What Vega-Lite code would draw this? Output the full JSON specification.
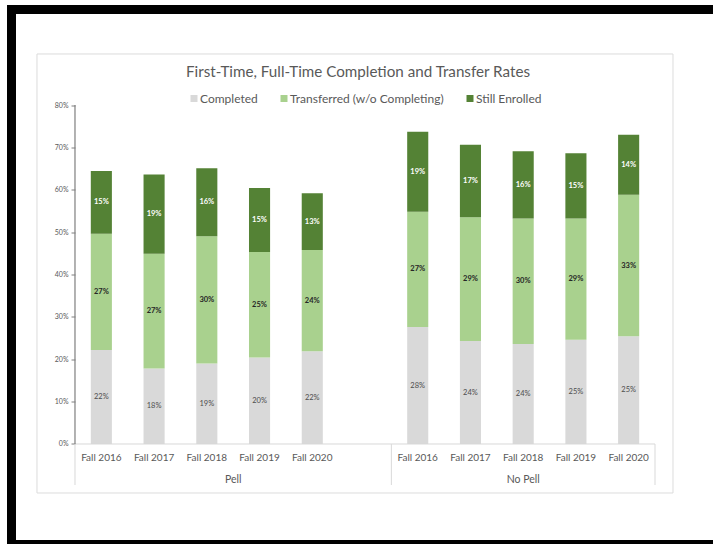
{
  "$schema": "https://vega.github.io/schema/vega-lite/v6.json",
  "width": 707,
  "height": 535,
  "autosize": {"type": "none"},
  "padding": {"left": 11.5, "top": 9.5, "right": -5.5, "bottom": -0.5},
  "background": "white",
  "config": {
    "view": {"stroke": "#000000", "strokeWidth": 9, "fill": "white"},
    "font": "Lato",
    "axis": {"labelFont": "Lato", "labelColor": "#595959", "grid": false, "title": null},
    "legend": {"labelFont": "Lato"}
  },
  "title": {
    "text": "First-Time, Full-Time Completion and Transfer Rates",
    "fontSize": 15.2,
    "fontWeight": "normal",
    "color": "#595959",
    "font": "Lato",
    "anchor": "middle",
    "frame": "group",
    "offset": -71,
    "dx": -7
  },
  "datasets": {
    "rates": [
      {"group": "Pell", "term": "Fall 2016", "bar": "Pell Fall 2016", "status": "Completed", "value": 0.222},
      {"group": "Pell", "term": "Fall 2016", "bar": "Pell Fall 2016", "status": "Transferred (w/o Completing)", "value": 0.274},
      {"group": "Pell", "term": "Fall 2016", "bar": "Pell Fall 2016", "status": "Still Enrolled", "value": 0.148},
      {"group": "Pell", "term": "Fall 2017", "bar": "Pell Fall 2017", "status": "Completed", "value": 0.178},
      {"group": "Pell", "term": "Fall 2017", "bar": "Pell Fall 2017", "status": "Transferred (w/o Completing)", "value": 0.271},
      {"group": "Pell", "term": "Fall 2017", "bar": "Pell Fall 2017", "status": "Still Enrolled", "value": 0.187},
      {"group": "Pell", "term": "Fall 2018", "bar": "Pell Fall 2018", "status": "Completed", "value": 0.19},
      {"group": "Pell", "term": "Fall 2018", "bar": "Pell Fall 2018", "status": "Transferred (w/o Completing)", "value": 0.30},
      {"group": "Pell", "term": "Fall 2018", "bar": "Pell Fall 2018", "status": "Still Enrolled", "value": 0.161},
      {"group": "Pell", "term": "Fall 2019", "bar": "Pell Fall 2019", "status": "Completed", "value": 0.204},
      {"group": "Pell", "term": "Fall 2019", "bar": "Pell Fall 2019", "status": "Transferred (w/o Completing)", "value": 0.249},
      {"group": "Pell", "term": "Fall 2019", "bar": "Pell Fall 2019", "status": "Still Enrolled", "value": 0.151},
      {"group": "Pell", "term": "Fall 2020", "bar": "Pell Fall 2020", "status": "Completed", "value": 0.219},
      {"group": "Pell", "term": "Fall 2020", "bar": "Pell Fall 2020", "status": "Transferred (w/o Completing)", "value": 0.239},
      {"group": "Pell", "term": "Fall 2020", "bar": "Pell Fall 2020", "status": "Still Enrolled", "value": 0.134},
      {"group": "No Pell", "term": "Fall 2016", "bar": "No Pell Fall 2016", "status": "Completed", "value": 0.276},
      {"group": "No Pell", "term": "Fall 2016", "bar": "No Pell Fall 2016", "status": "Transferred (w/o Completing)", "value": 0.272},
      {"group": "No Pell", "term": "Fall 2016", "bar": "No Pell Fall 2016", "status": "Still Enrolled", "value": 0.189},
      {"group": "No Pell", "term": "Fall 2017", "bar": "No Pell Fall 2017", "status": "Completed", "value": 0.243},
      {"group": "No Pell", "term": "Fall 2017", "bar": "No Pell Fall 2017", "status": "Transferred (w/o Completing)", "value": 0.292},
      {"group": "No Pell", "term": "Fall 2017", "bar": "No Pell Fall 2017", "status": "Still Enrolled", "value": 0.171},
      {"group": "No Pell", "term": "Fall 2018", "bar": "No Pell Fall 2018", "status": "Completed", "value": 0.236},
      {"group": "No Pell", "term": "Fall 2018", "bar": "No Pell Fall 2018", "status": "Transferred (w/o Completing)", "value": 0.296},
      {"group": "No Pell", "term": "Fall 2018", "bar": "No Pell Fall 2018", "status": "Still Enrolled", "value": 0.159},
      {"group": "No Pell", "term": "Fall 2019", "bar": "No Pell Fall 2019", "status": "Completed", "value": 0.246},
      {"group": "No Pell", "term": "Fall 2019", "bar": "No Pell Fall 2019", "status": "Transferred (w/o Completing)", "value": 0.286},
      {"group": "No Pell", "term": "Fall 2019", "bar": "No Pell Fall 2019", "status": "Still Enrolled", "value": 0.154},
      {"group": "No Pell", "term": "Fall 2020", "bar": "No Pell Fall 2020", "status": "Completed", "value": 0.254},
      {"group": "No Pell", "term": "Fall 2020", "bar": "No Pell Fall 2020", "status": "Transferred (w/o Completing)", "value": 0.334},
      {"group": "No Pell", "term": "Fall 2020", "bar": "No Pell Fall 2020", "status": "Still Enrolled", "value": 0.142}
    ]
  },
  "layer": [
    {
      "data": {"values": [{}]},
      "mark": {"type": "rect", "filled": false, "stroke": "#dcdcdc", "strokeWidth": 1},
      "encoding": {
        "x": {"datum": "Pell Fall 2016", "type": "nominal", "bandPosition": -0.7207},
        "x2": {"datum": "No Pell Fall 2020", "bandPosition": 1.341},
        "y": {"datum": 0.9204, "type": "quantitative"},
        "y2": {"datum": -0.1156}
      }
    },
    {
      "data": {"name": "rates"},
      "transform": [{"stack": "value", "groupby": ["bar"], "as": ["v0", "v1"]}],
      "mark": {"type": "bar", "width": {"band": 0.4}},
      "encoding": {
        "x": {
          "field": "bar",
          "type": "nominal",
          "title": null,
          "sort": null,
          "scale": {
            "domain": ["  ", "Pell Fall 2016", "Pell Fall 2017", "Pell Fall 2018", "Pell Fall 2019", "Pell Fall 2020", " ", "No Pell Fall 2016", "No Pell Fall 2017", "No Pell Fall 2018", "No Pell Fall 2019", "No Pell Fall 2020", "   "],
            "paddingInner": 0,
            "paddingOuter": 0.204
          },
          "axis": {
            "orient": "bottom",
            "offset": -100.5,
            "domain": false,
            "ticks": false,
            "tickSize": 0,
            "bandPosition": 0.5,
            "labelAlign": "center",
            "labelPadding": 13,
            "labelFontSize": 10,
            "labelAngle": 0,
            "labelColor": "#595959",
            "labelExpr": "replace(replace(datum.label, 'No Pell ', ''), 'Pell ', '')"
          }
        },
        "y": {
          "field": "v0",
          "type": "quantitative",
          "title": null,
          "scale": {"domain": [-0.23717, 1.02537], "nice": false, "zero": false},
          "axis": {
            "values": [0, 0.1, 0.2, 0.3, 0.4, 0.5, 0.6, 0.7, 0.8],
            "format": ".0%",
            "domain": false,
            "offset": -63.5,
            "tickColor": "#7f7f7f",
            "tickSize": 4,
            "labelFontSize": 7,
            "labelPadding": 3,
            "labelColor": "#595959"
          }
        },
        "y2": {"field": "v1"},
        "color": {
          "field": "status",
          "type": "nominal",
          "scale": {
            "domain": ["Completed", "Transferred (w/o Completing)", "Still Enrolled"],
            "range": ["#d9d9d9", "#a9d18e", "#548235"]
          },
          "legend": {
            "orient": "none",
            "legendX": 176.5,
            "legendY": 83,
            "direction": "horizontal",
            "title": null,
            "symbolType": "square",
            "symbolSize": 49,
            "symbolStrokeWidth": 0,
            "labelFontSize": 12,
            "labelColor": "#595959",
            "columnPadding": 20,
            "labelOffset": 0
          }
        }
      }
    },
    {
      "data": {"values": [{}]},
      "mark": {"type": "rule", "stroke": "#d9d9d9", "strokeWidth": 1},
      "encoding": {
        "x": {"datum": "Pell Fall 2016", "type": "nominal", "bandPosition": 0},
        "x2": {"datum": "No Pell Fall 2020", "bandPosition": 1},
        "y": {"datum": 0, "type": "quantitative"}
      }
    },
    {
      "data": {"values": [{}]},
      "mark": {"type": "rule", "stroke": "#d9d9d9", "strokeWidth": 1},
      "encoding": {
        "x": {"datum": "Pell Fall 2016", "type": "nominal", "bandPosition": 0},
        "y": {"datum": 0, "type": "quantitative"},
        "y2": {"datum": -0.0968}
      }
    },
    {
      "data": {"values": [{}]},
      "mark": {"type": "rule", "stroke": "#d9d9d9", "strokeWidth": 1},
      "encoding": {
        "x": {"datum": "No Pell Fall 2016", "type": "nominal", "bandPosition": 0},
        "y": {"datum": 0, "type": "quantitative"},
        "y2": {"datum": -0.0968}
      }
    },
    {
      "data": {"values": [{}]},
      "mark": {"type": "rule", "stroke": "#d9d9d9", "strokeWidth": 1},
      "encoding": {
        "x": {"datum": "No Pell Fall 2020", "type": "nominal", "bandPosition": 1},
        "y": {"datum": 0, "type": "quantitative"},
        "y2": {"datum": -0.0968}
      }
    },
    {
      "data": {"values": [{}]},
      "mark": {"type": "rule", "stroke": "#7f7f7f", "strokeWidth": 1.2},
      "encoding": {
        "x": {"datum": "Pell Fall 2016", "type": "nominal", "bandPosition": 0},
        "y": {"datum": 0, "type": "quantitative"},
        "y2": {"datum": 0.8}
      }
    },
    {
      "data": {"values": [{"group": "Pell"}]},
      "mark": {"type": "text", "fontSize": 10.5, "color": "#595959", "baseline": "middle", "align": "center"},
      "encoding": {
        "x": {"datum": "Pell Fall 2018", "type": "nominal", "bandPosition": 1},
        "y": {"datum": -0.0845, "type": "quantitative"},
        "text": {"field": "group"}
      }
    },
    {
      "data": {"values": [{"group": "No Pell"}]},
      "mark": {"type": "text", "fontSize": 10.5, "color": "#595959", "baseline": "middle", "align": "center"},
      "encoding": {
        "x": {"datum": "No Pell Fall 2018", "type": "nominal", "bandPosition": 0.5},
        "y": {"datum": -0.0845, "type": "quantitative"},
        "text": {"field": "group"}
      }
    },
    {
      "data": {"name": "rates"},
      "transform": [
        {"stack": "value", "groupby": ["bar"], "as": ["v0", "v1"]},
        {"fold": ["v0", "v1"], "as": ["edge", "v"]},
        {"aggregate": [{"op": "mean", "field": "v", "as": "mid"}], "groupby": ["bar", "status", "value"]},
        {"filter": "datum.status === 'Completed'"}
      ],
      "mark": {"type": "text", "fontSize": 7.5, "color": "#4d4d4d", "baseline": "middle"},
      "encoding": {
        "x": {"field": "bar", "type": "nominal", "title": null},
        "y": {"field": "mid", "type": "quantitative", "title": null},
        "text": {"field": "value", "format": ".0%"}
      }
    },
    {
      "data": {"name": "rates"},
      "transform": [
        {"stack": "value", "groupby": ["bar"], "as": ["v0", "v1"]},
        {"fold": ["v0", "v1"], "as": ["edge", "v"]},
        {"aggregate": [{"op": "mean", "field": "v", "as": "mid"}], "groupby": ["bar", "status", "value"]},
        {"filter": "datum.status === 'Transferred (w/o Completing)'"}
      ],
      "mark": {"type": "text", "fontSize": 7.5, "fontWeight": "bold", "color": "#262626", "baseline": "middle"},
      "encoding": {
        "x": {"field": "bar", "type": "nominal", "title": null},
        "y": {"field": "mid", "type": "quantitative", "title": null},
        "text": {"field": "value", "format": ".0%"}
      }
    },
    {
      "data": {"name": "rates"},
      "transform": [
        {"stack": "value", "groupby": ["bar"], "as": ["v0", "v1"]},
        {"fold": ["v0", "v1"], "as": ["edge", "v"]},
        {"aggregate": [{"op": "mean", "field": "v", "as": "mid"}], "groupby": ["bar", "status", "value"]},
        {"filter": "datum.status === 'Still Enrolled'"}
      ],
      "mark": {"type": "text", "fontSize": 7.5, "fontWeight": "bold", "color": "#ffffff", "baseline": "middle"},
      "encoding": {
        "x": {"field": "bar", "type": "nominal", "title": null},
        "y": {"field": "mid", "type": "quantitative", "title": null},
        "text": {"field": "value", "format": ".0%"}
      }
    }
  ]
}
